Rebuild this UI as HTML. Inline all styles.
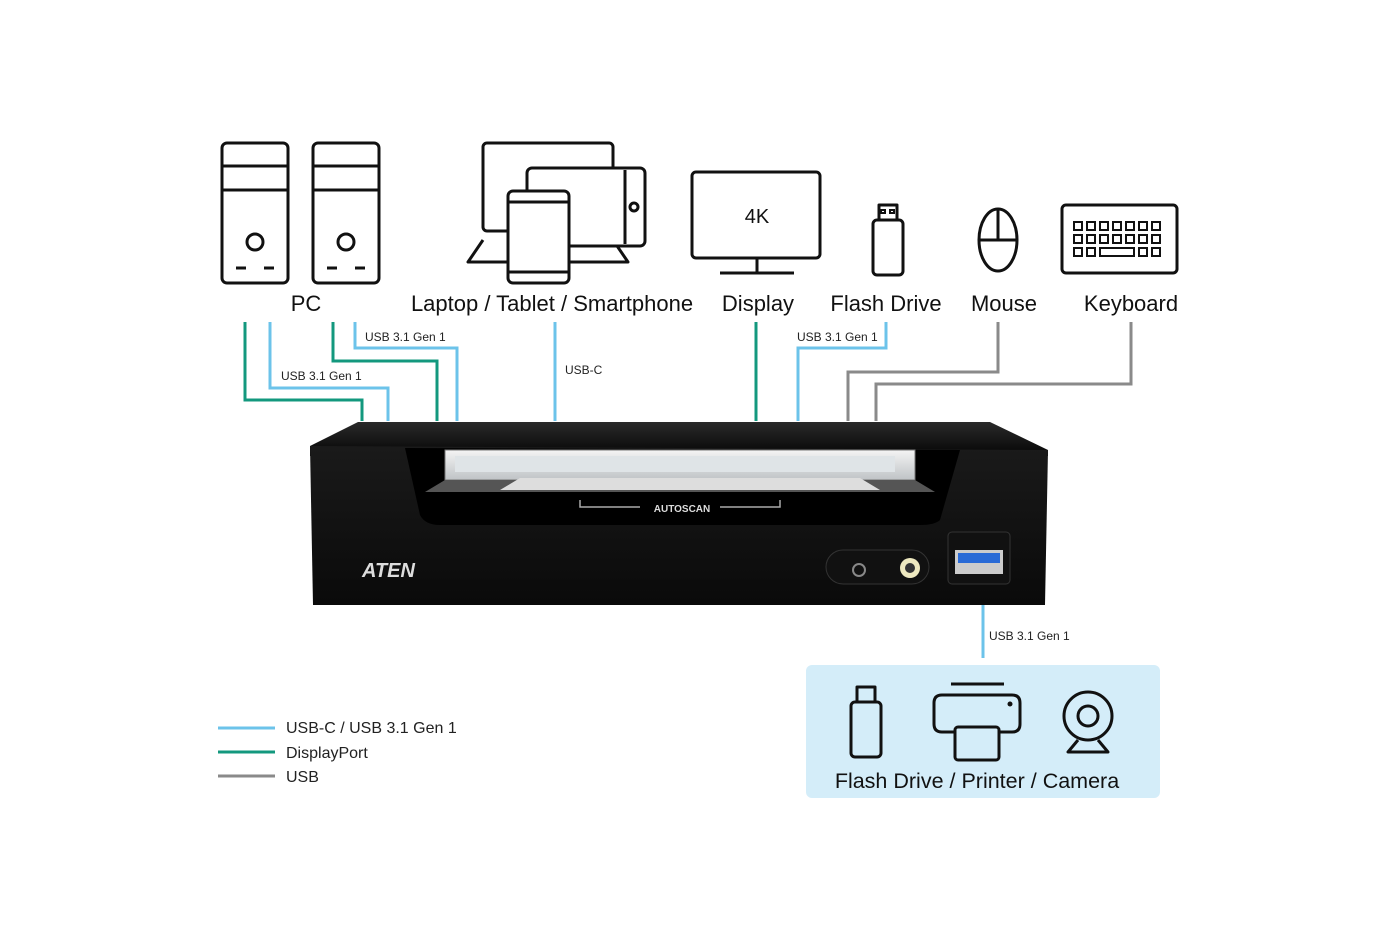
<!DOCTYPE html>
<html><head><meta charset="utf-8"><style>
html,body{margin:0;padding:0;background:#fff;}
svg{display:block;font-family:"Liberation Sans",sans-serif;}
</style></head><body>
<svg width="1400" height="934" viewBox="0 0 1400 934" xmlns="http://www.w3.org/2000/svg">
<defs>
<linearGradient id="top" x1="0" y1="0" x2="0" y2="1"><stop offset="0" stop-color="#2a2a2a"/><stop offset="1" stop-color="#050505"/></linearGradient>
<linearGradient id="front" x1="0" y1="0" x2="0" y2="1"><stop offset="0" stop-color="#1a1a1a"/><stop offset="1" stop-color="#0a0a0a"/></linearGradient>
<linearGradient id="lcd" x1="0" y1="0" x2="0" y2="1"><stop offset="0" stop-color="#f4f4f4"/><stop offset="1" stop-color="#bfc3c6"/></linearGradient>
</defs>
<g fill="none" stroke-width="3">
<polyline points="245,322 245,400 362,400 362,421" stroke="#13987e"/>
<polyline points="270,322 270,388 388,388 388,421" stroke="#6cc3ea"/>
<polyline points="333,322 333,361 437,361 437,421" stroke="#13987e"/>
<polyline points="355,322 355,348 457,348 457,421" stroke="#6cc3ea"/>
<line x1="555" y1="322" x2="555" y2="421" stroke="#6cc3ea"/>
<line x1="756" y1="322" x2="756" y2="421" stroke="#13987e"/>
<polyline points="886,322 886,348 798,348 798,421" stroke="#6cc3ea"/>
<polyline points="998,322 998,372 848,372 848,421" stroke="#8a8a8a"/>
<polyline points="1131,322 1131,384 876,384 876,421" stroke="#8a8a8a"/>
<line x1="983" y1="570" x2="983" y2="658" stroke="#6cc3ea"/>
</g>
<g font-size="12" fill="#222">
<text x="365" y="341">USB 3.1 Gen 1</text>
<text x="281" y="380">USB 3.1 Gen 1</text>
<text x="565" y="374">USB-C</text>
<text x="797" y="341">USB 3.1 Gen 1</text>
<text x="989" y="640">USB 3.1 Gen 1</text>
</g>
<polygon points="310,446 358,422 990,422 1048,450 1048,456 310,456" fill="url(#top)"/>
<path d="M310,446 L1048,450 L1045,605 L313,605 Z" fill="url(#front)"/>
<path d="M405,448 L960,450 L940,520 Q935,525 920,525 L440,525 Q425,525 420,515 Z" fill="#000"/>
<rect x="445" y="450" width="470" height="30" fill="url(#lcd)" stroke="#777"/>
<rect x="455" y="456" width="440" height="16" fill="#dfe4e7"/>
<path d="M445,480 L915,480 L935,492 L425,492 Z" fill="#555"/>
<path d="M520,478 L860,478 L880,490 L500,490 Z" fill="#ddd"/>
<path d="M580,500 L580,507 L640,507 M720,507 L780,507 L780,500" stroke="#aaa" stroke-width="1.5" fill="none"/>
<text x="682" y="512" font-size="10" font-weight="bold" fill="#ddd" text-anchor="middle">AUTOSCAN</text>
<text x="362" y="577" font-size="20" font-weight="bold" fill="#ddd" font-style="italic">ATEN</text>
<rect x="826" y="550" width="103" height="34" rx="17" fill="#111" stroke="#333"/>
<circle cx="859" cy="570" r="6" fill="none" stroke="#888" stroke-width="2"/>
<circle cx="910" cy="568" r="10" fill="#eee9c0"/><circle cx="910" cy="568" r="5" fill="#333"/>
<rect x="948" y="532" width="62" height="52" rx="4" fill="#111" stroke="#333"/>
<rect x="955" y="550" width="48" height="24" fill="#ccc"/>
<rect x="958" y="553" width="42" height="10" fill="#2a6bd6"/>
<g fill="none" stroke="#111" stroke-width="3" stroke-linejoin="round">
<rect x="222" y="143" width="66" height="140" rx="5"/><line x1="222" y1="166" x2="288" y2="166"/><line x1="222" y1="190" x2="288" y2="190"/><circle cx="255" cy="242" r="8"/>
<line x1="236" y1="268" x2="246" y2="268"/><line x1="264" y1="268" x2="274" y2="268"/>
<rect x="313" y="143" width="66" height="140" rx="5"/><line x1="313" y1="166" x2="379" y2="166"/><line x1="313" y1="190" x2="379" y2="190"/><circle cx="346" cy="242" r="8"/>
<line x1="327" y1="268" x2="337" y2="268"/><line x1="355" y1="268" x2="365" y2="268"/>
<rect x="483" y="143" width="130" height="88" rx="4"/>
<path d="M483,240 L468,262 L628,262 L613,240"/>
<rect x="527" y="168" width="118" height="78" rx="5" fill="#fff"/><circle cx="634" cy="207" r="4"/><line x1="625" y1="170" x2="625" y2="244"/>
<rect x="508" y="191" width="61" height="92" rx="5" fill="#fff"/><line x1="508" y1="202" x2="569" y2="202"/><line x1="508" y1="272" x2="569" y2="272"/>
<rect x="692" y="172" width="128" height="86" rx="4"/><line x1="757" y1="258" x2="757" y2="273"/><line x1="720" y1="273" x2="794" y2="273"/>
<rect x="873" y="220" width="30" height="55" rx="4"/><rect x="879" y="205" width="18" height="15"/>
<ellipse cx="998" cy="240" rx="19" ry="31"/><line x1="979" y1="240" x2="1017" y2="240"/><line x1="998" y1="209" x2="998" y2="240"/>
<rect x="1062" y="205" width="115" height="68" rx="4"/>
</g>
<g fill="none" stroke="#111" stroke-width="2">
<rect x="1074" y="222" width="8" height="8"/><rect x="1087" y="222" width="8" height="8"/><rect x="1100" y="222" width="8" height="8"/><rect x="1113" y="222" width="8" height="8"/><rect x="1126" y="222" width="8" height="8"/><rect x="1139" y="222" width="8" height="8"/><rect x="1152" y="222" width="8" height="8"/>
<rect x="1074" y="235" width="8" height="8"/><rect x="1087" y="235" width="8" height="8"/><rect x="1100" y="235" width="8" height="8"/><rect x="1113" y="235" width="8" height="8"/><rect x="1126" y="235" width="8" height="8"/><rect x="1139" y="235" width="8" height="8"/><rect x="1152" y="235" width="8" height="8"/>
<rect x="1074" y="248" width="8" height="8"/><rect x="1087" y="248" width="8" height="8"/><rect x="1100" y="248" width="34" height="8"/><rect x="1139" y="248" width="8" height="8"/><rect x="1152" y="248" width="8" height="8"/>
<rect x="881" y="210" width="4" height="3"/><rect x="890" y="210" width="4" height="3"/>
</g>
<text x="757" y="223" font-size="20" text-anchor="middle" fill="#111">4K</text>
<g font-size="22" fill="#111" text-anchor="middle">
<text x="306" y="311">PC</text>
<text x="552" y="311">Laptop / Tablet / Smartphone</text>
<text x="758" y="311">Display</text>
<text x="886" y="311">Flash Drive</text>
<text x="1004" y="311">Mouse</text>
<text x="1131" y="311">Keyboard</text>
</g>
<rect x="806" y="665" width="354" height="133" rx="6" fill="#d4edf9"/>
<g fill="none" stroke="#111" stroke-width="3" stroke-linejoin="round">
<rect x="851" y="702" width="30" height="55" rx="4"/><rect x="857" y="687" width="18" height="15"/>
<line x1="951" y1="684" x2="1004" y2="684"/>
<path d="M955,732 L942,732 Q934,732 934,724 L934,703 Q934,695 942,695 L1012,695 Q1020,695 1020,703 L1020,724 Q1020,732 1012,732 L999,732"/>
<rect x="955" y="727" width="44" height="33" rx="3" fill="#d4edf9"/>
<circle cx="1088" cy="716" r="24"/><circle cx="1088" cy="716" r="10"/>
<path d="M1078,740 L1068,752 L1108,752 L1098,740"/>
</g>
<circle cx="1010" cy="704" r="2.5" fill="#111"/>
<text x="977" y="788" font-size="21.5" fill="#111" text-anchor="middle">Flash Drive / Printer / Camera</text>
<line x1="218" y1="728" x2="275" y2="728" stroke="#6cc3ea" stroke-width="3"/>
<line x1="218" y1="752" x2="275" y2="752" stroke="#13987e" stroke-width="3"/>
<line x1="218" y1="776" x2="275" y2="776" stroke="#8a8a8a" stroke-width="3"/>
<g font-size="16" fill="#222">
<text x="286" y="733">USB-C / USB 3.1 Gen 1</text>
<text x="286" y="758">DisplayPort</text>
<text x="286" y="782">USB</text>
</g>
</svg>
</body></html>
